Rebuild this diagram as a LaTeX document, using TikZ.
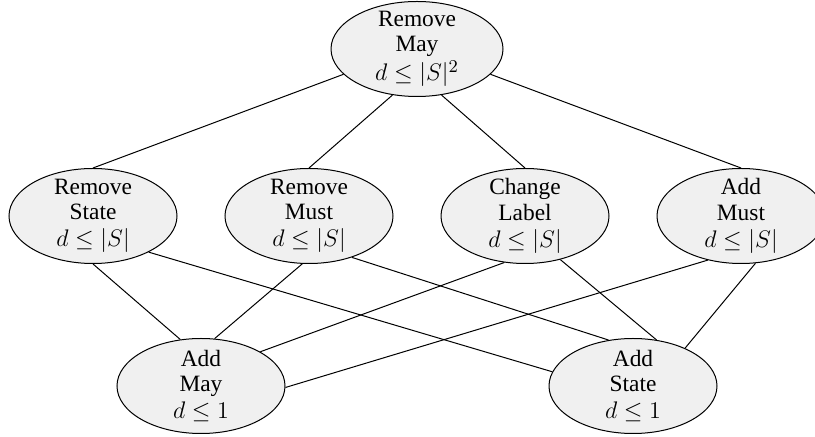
\documentclass[tikz,border=0pt]{standalone}
\usepackage{fontspec}
\setmainfont{Liberation Serif}
\usetikzlibrary{shapes.geometric}
\newcommand{\mline}[1]{{\fontsize{12.6}{12.6}\selectfont$#1$}}
\begin{document}
\begin{tikzpicture}[x=0.5pt,y=-0.5pt,
  ell/.style={draw, ellipse, line width=0.5pt,
    fill={rgb,255:red,240;green,240;blue,240},
    minimum width=84pt, minimum height=47.5pt, inner sep=0pt},
  txt/.style={align=center, font=\fontsize{11.7}{12.6}\selectfont, inner sep=0pt},
  conn/.style={line width=0.5pt}]
\clip (0,0) rectangle (815,437);
% nodes
\node[ell, minimum width=86pt, label={[txt]center:{Remove\\May\\[1pt]\mline{d\leq|S|^2}}}] (rmay) at (417,49) {};
\node[ell, label={[txt]center:{Remove\\State\\[1pt]\mline{d\leq|S|}}}] (rs) at (93,216) {};
\node[ell, label={[txt]center:{Remove\\Must\\[1pt]\mline{d\leq|S|}}}] (rm) at (309,216) {};
\node[ell, label={[txt]center:{Change\\Label\\[1pt]\mline{d\leq|S|}}}] (cl) at (525,216) {};
\node[ell, label={[txt]center:{Add\\Must\\[1pt]\mline{d\leq|S|}}}] (am) at (741,216) {};
\node[ell, label={[txt]center:{Add\\May\\[1pt]\mline{d\leq 1}}}] (amay) at (201,386) {};
\node[ell, label={[txt]center:{Add\\State\\[1pt]\mline{d\leq 1}}}] (ast) at (633,386) {};
% connectors
\draw[conn] (rmay.199.4) -- (rs.90);
\draw[conn] (rmay.-118) -- (rm.90);
\draw[conn] (rmay.-62.6) -- (cl.90);
\draw[conn] (rmay.-19.2) -- (am.90);
\draw[conn] (rs.-90) -- (amay.114);
\draw[conn] (rs.-33) -- (ast.170);
\draw[conn] (rm.-98.5) -- (amay.74);
\draw[conn] (rm.-44.7) -- (ast.118);
\draw[conn] (cl.-114.5) -- (amay.30);
\draw[conn] (cl.-51.2) -- (ast.63);
\draw[conn] (am.-127.5) -- (amay.-1);
\draw[conn] (am.-73.6) -- (ast.36);
\end{tikzpicture}
\end{document}
